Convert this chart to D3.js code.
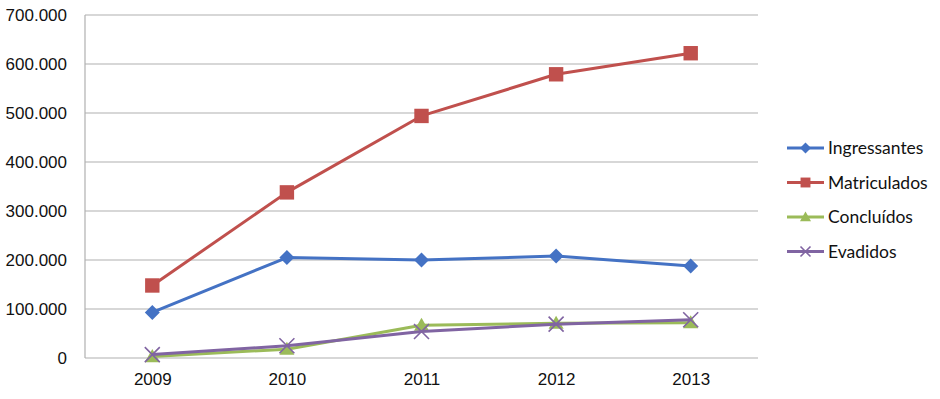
<!DOCTYPE html>
<html>
<head>
<meta charset="utf-8">
<script src="https://cdn.jsdelivr.net/npm/d3@7"></script>
<style>
  body { margin: 0; background: #fff; }
  svg { font-family: Lato, "Open Sans", sans-serif; }
</style>
</head>
<body>
<svg id="chart" width="940" height="399"></svg>
<script>
const years = ["2009", "2010", "2011", "2012", "2013"];
const ingressantes = [93000, 205000, 200000, 208000, 188000];
const matriculados = [148000, 338000, 494000, 579000, 622000];
const concluidos = [3000, 18000, 67000, 71000, 72000];
const evadidos = [7000, 25000, 54000, 69000, 78000];
const yTicks = [0, 100000, 200000, 300000, 400000, 500000, 600000, 700000];

const series = [
  { name: "Ingressantes", values: ingressantes, color: "#4472C4", marker: "diamond" },
  { name: "Matriculados", values: matriculados, color: "#C0504D", marker: "square" },
  { name: "Concluídos", values: concluidos, color: "#9BBB59", marker: "triangle" },
  { name: "Evadidos", values: evadidos, color: "#8064A2", marker: "x" }
];

const margin = { top: 15, left: 85 };
const innerWidth = 673;
const innerHeight = 343;

const svg = d3.select("#chart");
const g = svg.append("g")
  .attr("transform", `translate(${margin.left}, ${margin.top})`);

const x = d3.scalePoint()
  .domain(years)
  .range([0, innerWidth])
  .padding(0.5);

const y = d3.scaleLinear()
  .domain([0, 700000])
  .range([innerHeight, 0]);

const fmt = d => d === 0 ? "0" : d3.format(",")(d).replace(/,/g, ".");

// gridlines
g.selectAll(".grid")
  .data(yTicks)
  .join("line")
  .attr("x1", 0)
  .attr("x2", innerWidth)
  .attr("y1", d => y(d))
  .attr("y2", d => y(d))
  .attr("stroke", "#b0b0b0")
  .attr("stroke-width", 1.2);

g.append("line")
  .attr("x1", 0).attr("x2", 0)
  .attr("y1", 0).attr("y2", innerHeight)
  .attr("stroke", "#b0b0b0")
  .attr("stroke-width", 1.2);

const yAxis = g.append("g")
  .call(d3.axisLeft(y).tickValues(yTicks).tickFormat(fmt).tickSize(0).tickPadding(18));
yAxis.select(".domain").remove();
yAxis.selectAll("text")
  .attr("fill", "#111")
  .style("font-size", "17px");

const xAxis = g.append("g")
  .attr("transform", `translate(0, ${innerHeight})`)
  .call(d3.axisBottom(x).tickSize(0).tickPadding(15));
xAxis.select(".domain").remove();
xAxis.selectAll("text")
  .attr("fill", "#111")
  .style("font-size", "17px");

const line = d3.line()
  .x((d, i) => x(years[i]))
  .y(d => y(d));

function drawMarker(sel, type, color, s) {
  if (type === "diamond") {
    sel.append("path")
      .attr("d", `M0,${-s}L${s},0L0,${s}L${-s},0Z`)
      .attr("fill", color);
  } else if (type === "square") {
    sel.append("rect")
      .attr("x", -s * 0.9).attr("y", -s * 0.9)
      .attr("width", s * 1.8).attr("height", s * 1.8)
      .attr("fill", color);
  } else if (type === "triangle") {
    sel.append("path")
      .attr("d", `M0,${-s}L${s},${s * 0.75}L${-s},${s * 0.75}Z`)
      .attr("fill", color);
  } else {
    sel.append("path")
      .attr("d", `M${-s},${-s}L${s},${s}M${-s},${s}L${s},${-s}`)
      .attr("stroke", color)
      .attr("stroke-width", 1.6)
      .attr("fill", "none");
  }
}

series.forEach(s => {
  g.append("path")
    .datum(s.values)
    .attr("fill", "none")
    .attr("stroke", s.color)
    .attr("stroke-width", 3)
    .attr("stroke-linejoin", "round")
    .attr("d", line);

  s.values.forEach((v, i) => {
    const m = g.append("g")
      .attr("transform", `translate(${x(years[i])}, ${y(v)})`);
    drawMarker(m, s.marker, s.color, s.marker === "square" ? 8 : 7.5);
  });
});

// legend
const legend = svg.append("g")
  .attr("transform", "translate(787, 148)");

series.forEach((s, i) => {
  const item = legend.append("g")
    .attr("transform", `translate(0, ${i * 34.5})`);
  item.append("line")
    .attr("x1", 0).attr("x2", 37)
    .attr("stroke", s.color)
    .attr("stroke-width", 3);
  const m = item.append("g").attr("transform", "translate(18.5, 0)");
  drawMarker(m, s.marker, s.color, s.marker === "x" ? 5 : 5.5);
  item.append("text")
    .attr("x", 41)
    .attr("y", 0)
    .attr("dy", "0.35em")
    .attr("fill", "#111")
    .style("font-size", "17.5px")
    .text(s.name);
});
</script>
</body>
</html>
